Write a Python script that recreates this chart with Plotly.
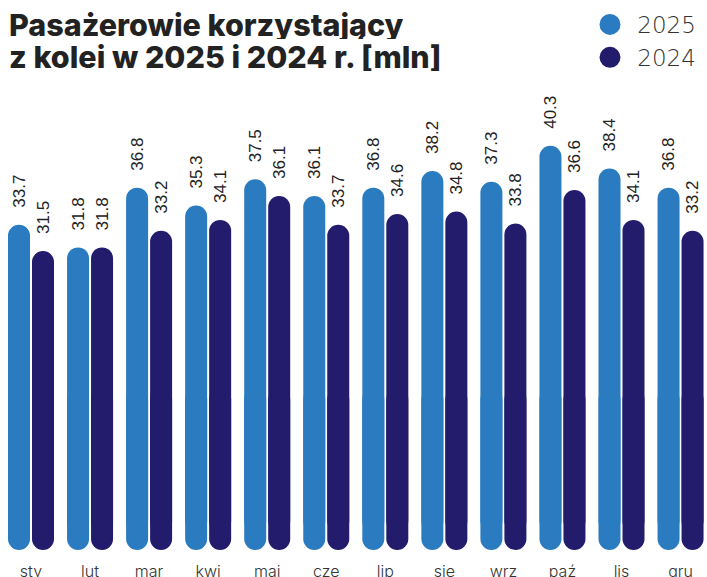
import plotly.graph_objects as go

# ---- data ----
months = ["sty", "lut", "mar", "kwi", "maj", "cze", "lip", "sie", "wrz", "paź", "lis", "gru"]
pax_2025 = [33.7, 31.8, 36.8, 35.3, 37.5, 36.1, 36.8, 38.2, 37.3, 40.3, 38.4, 36.8]
pax_2024 = [31.5, 31.8, 33.2, 34.1, 36.1, 33.7, 34.6, 34.8, 33.8, 36.6, 34.1, 33.2]
series_names = ["2025", "2024"]
title_lines = ["Pasażerowie korzystający", "z kolei w 2025 i 2024 r. [mln]"]

# ---- layout constants ----
W, H = 707, 577
PITCH = 59.05      # px per month group
X0_PX = 31         # px centre of first group
K = 11.95          # px per mln
Y0_PX = 627.4      # px position of value 0
colors = ["#2a7bc0", "#231b6b"]

x_range = [-X0_PX / PITCH, (W - X0_PX) / PITCH]
y_range = [(Y0_PX - H) / K, Y0_PX / K]
BAR_W = 22 / PITCH
offsets = [-23 / PITCH, 1 / PITCH]
BOTTOM = (Y0_PX - 550) / K
BODY_BASE = BOTTOM + 1.5
CAP_TOP = 20.0
GAP = 14 / K
MONTH_Y = (Y0_PX - 573) / K

idx = list(range(len(months)))
fig = go.Figure()

for name, vals, col, off in zip(series_names, [pax_2025, pax_2024], colors, offsets):
    # rounded bottom cap (overlaps the body)
    fig.add_trace(go.Bar(
        x=idx, y=[BOTTOM - CAP_TOP] * len(vals), base=CAP_TOP, offset=off, width=BAR_W,
        marker=dict(color=col, cornerradius="50%", line=dict(width=0)),
        showlegend=False, hoverinfo="skip"))
    # body (rounded top)
    fig.add_trace(go.Bar(
        x=idx, y=[v - BODY_BASE for v in vals], base=BODY_BASE, offset=off, width=BAR_W,
        marker=dict(color=col, cornerradius="50%", line=dict(width=0)),
        showlegend=False, hoverinfo="skip"))
    # invisible carrier for value labels
    fig.add_trace(go.Bar(
        x=idx, y=[GAP] * len(vals), base=vals, offset=off, width=BAR_W,
        marker=dict(color="rgba(0,0,0,0)", line=dict(width=0)),
        text=[f"{v:.1f}" for v in vals], textposition="outside", textangle=-90,
        constraintext="none", cliponaxis=False,
        textfont=dict(family="Liberation Sans", size=17, color="#222222"),
        showlegend=False, hoverinfo="skip"))

# legend entries
for name, col in zip(series_names, colors):
    fig.add_trace(go.Scatter(
        x=[None], y=[None], mode="markers", name="\u00a0" + name, legendgroup=name,
        marker=dict(symbol="circle", size=16, color=col, line=dict(color=col, width=5))))

# month labels
fig.add_trace(go.Scatter(
    x=idx, y=[MONTH_Y] * len(months), mode="text", text=months,
    textfont=dict(family="Inter", size=16, color="#333333", weight=300),
    cliponaxis=False, showlegend=False, hoverinfo="skip"))

fig.update_layout(
    width=W, height=H,
    margin=dict(l=0, r=0, t=0, b=0),
    paper_bgcolor="white", plot_bgcolor="white",
    barmode="overlay",
    xaxis=dict(range=x_range, visible=False, fixedrange=True),
    yaxis=dict(range=y_range, visible=False, fixedrange=True),
    legend=dict(x=590 / W, xanchor="left", y=1 - 3 / H, yanchor="top",
                font=dict(family="DejaVu Sans", size=23, color="#333333", weight=200),
                bgcolor="rgba(0,0,0,0)", tracegroupgap=0, traceorder="grouped"),
    annotations=[
        dict(text=title_lines[0], xref="paper", yref="paper", x=7 / W, y=1 - 7 / H,
             xanchor="left", yanchor="top", height=30, showarrow=False,
             font=dict(family="Inter", size=30.5, color="#222222", weight=800)),
        dict(text=title_lines[1], xref="paper", yref="paper", x=7 / W, y=1 - 39 / H,
             xanchor="left", yanchor="top", height=30, showarrow=False,
             font=dict(family="Inter", size=30.5, color="#222222", weight=800)),
    ],
)

fig.write_html("out.html", config={"displayModeBar": False},
               post_script="document.body.style.margin='0';")
